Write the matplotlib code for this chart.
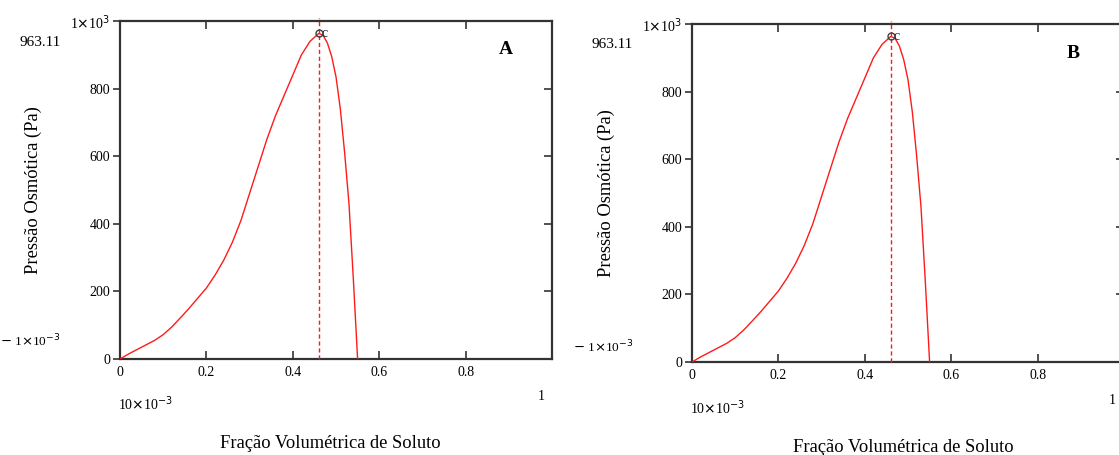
import matplotlib
matplotlib.use("Agg")
import matplotlib.pyplot as plt

plt.rcParams["font.family"] = ["Liberation Serif", "DejaVu Serif"]

# curve (same for both panels)
phi = [0.0, 0.02, 0.05, 0.08, 0.10, 0.12, 0.14, 0.16, 0.18, 0.20, 0.22,
       0.24, 0.26, 0.28, 0.30, 0.32, 0.34, 0.36, 0.38, 0.40, 0.42, 0.44,
       0.46, 0.47, 0.48, 0.49, 0.50, 0.51, 0.52, 0.53, 0.54, 0.55]
pressure = [0, 15, 35, 55, 72, 95, 122, 150, 180, 210, 248,
            292, 345, 410, 490, 570, 650, 720, 780, 840, 900, 940,
            963.11, 958, 935, 895, 835, 740, 610, 460, 240, 0]
phi_c = 0.46
pi_c = 963.11

xticks = [0, 0.2, 0.4, 0.6, 0.8]
xtick_labels = ["0", "0.2", "0.4", "0.6", "0.8"]
yticks = [0, 200, 400, 600, 800, 1000]
ytick_labels = ["0", "200", "400", "600", "800", r"1$\times$10$^{3}$"]
panels = ["A", "B"]

W, H = 1119, 455
fig = plt.figure(figsize=(W / 100, H / 100), dpi=100)

# pixel layout of each panel: axes box and the loose Mathcad labels
layout = {
    "A": dict(left=120, top=21, bottom=359, ylab=(33, 190), xlab=(330, 443),
              mark=(40, 43), neg=(30, 341), low=(146, 404), one=(541, 397),
              letter=(506, 50)),
    "B": dict(left=692, top=24, bottom=362, ylab=(606, 193), xlab=(903, 447),
              mark=(612, 45), neg=(603, 347), low=(718, 408), one=(1112, 400),
              letter=(1073, 54)),
}

ink = "#333333"


def fx(p):
    return p / W


def fy(p):
    return 1 - p / H


for name in panels:
    L = layout[name]
    ax = fig.add_axes([L["left"] / W, 1 - L["bottom"] / H, 432 / W,
                       (L["bottom"] - L["top"]) / H])
    ax.plot(phi, pressure, color="#ff1a1a", lw=1.0, zorder=3)
    ax.plot([phi_c, phi_c], [0, 1010], color="#ff1a1a", lw=1.0,
            ls=(0, (3, 2)), zorder=3, clip_on=False)
    ax.plot([phi_c], [pi_c], marker="o", ms=5, mfc="none", mec="#404040",
            mew=1.0, zorder=4)
    ax.text(phi_c + 0.007, pi_c, "c", fontsize=10, color="#202050",
            va="center", ha="left")

    ax.set_xlim(0, 1)
    ax.set_ylim(0, 1000)
    ax.set_xticks(xticks)
    ax.set_xticklabels(xtick_labels)
    ax.set_yticks(yticks)
    ax.set_yticklabels(ytick_labels)
    ax.tick_params(axis="x", direction="in", top=True, length=6, width=1.2,
                   color=ink, labelsize=10, pad=5)
    ax.tick_params(axis="y", direction="out", length=5, width=1.2,
                   color=ink, labelsize=10, pad=2)
    for s in ax.spines.values():
        s.set_color(ink)
        s.set_linewidth(1.6)
    # inward ticks on the right side
    ax2 = ax.twinx()
    ax2.set_ylim(0, 1000)
    ax2.set_yticks(yticks[1:-1])
    ax2.tick_params(axis="y", direction="in", length=6, width=1.2,
                    color=ink, labelright=False)
    for s in ax2.spines.values():
        s.set_visible(False)

    fig.text(fx(L["ylab"][0]), fy(L["ylab"][1]), "Pressão Osmótica (Pa)",
             rotation=90, ha="center", va="center", fontsize=13.3)
    fig.text(fx(L["xlab"][0]), fy(L["xlab"][1]), "Fração Volumétrica de Soluto",
             ha="center", va="center", fontsize=13.3)
    fig.text(fx(L["mark"][0]), fy(L["mark"][1]), "963.11", ha="center",
             va="center", fontsize=11)
    fig.text(fx(L["neg"][0]), fy(L["neg"][1]), r"$-$ 1$\times$10$^{-3}$",
             ha="center", va="center", fontsize=9.5)
    fig.text(fx(L["low"][0]), fy(L["low"][1]), r"10$\times$10$^{-3}$",
             ha="center", va="center", fontsize=10)
    fig.text(fx(L["one"][0]), fy(L["one"][1]), "1", ha="center", va="center",
             fontsize=10)
    fig.text(fx(L["letter"][0]), fy(L["letter"][1]), name, ha="center",
             va="center", fontsize=14, fontweight="bold")

fig.savefig("out.png", dpi=100)
